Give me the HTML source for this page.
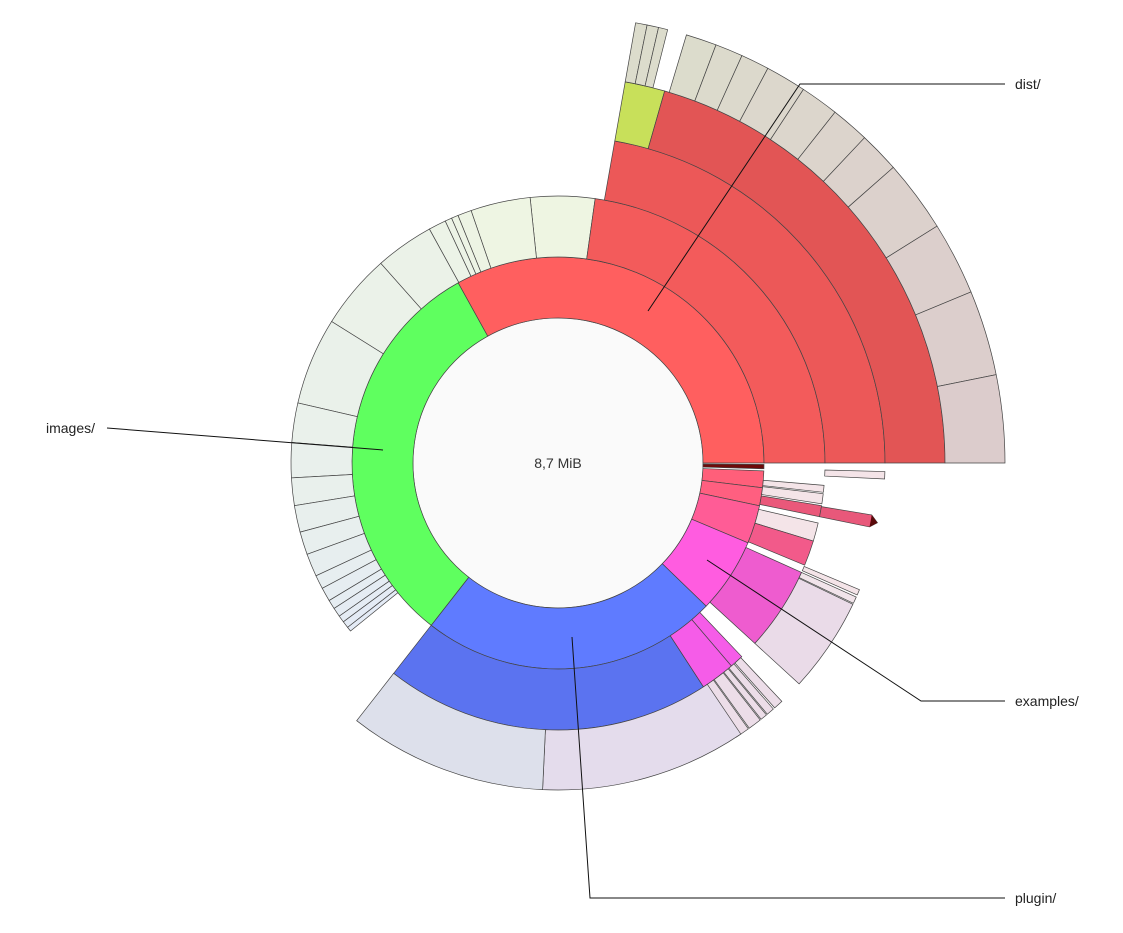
<!DOCTYPE html>
<html><head><meta charset="utf-8"><style>
body{margin:0;background:#fff;}
svg{display:block;font-family:"Liberation Sans","DejaVu Sans",sans-serif;}
</style></head><body>
<svg id="chart" width="1123" height="933" viewBox="0 0 1123 933" xmlns="http://www.w3.org/2000/svg">
<circle cx="558" cy="463" r="145" fill="#fafafa" stroke="#555" stroke-width="0.6"/>
<text x="558" y="468" text-anchor="middle" font-size="14" fill="#333">8,7 MiB</text>
<g id="segs"></g>
<g id="labels"></g>
</svg>
<script>
// ring radii (ring index -> inner/outer)
const ringInner = [145, 206, 267, 327, 387];
const ringOuter = [206, 267, 327, 387, 447];
// segments: ring, startDeg, endDeg, color, name
const segRing0 = [
  [0, -119, 0, '#ff5f5f', 'dist'],
  [0, 0.4, 1.6, '#6e0a0a', 'small-dark-dir'],
  [0, 2.2, 6.9, '#ff5f7a', 'pink-dir-1'],
  [0, 6.9, 12, '#ff5f80', 'pink-dir-2'],
  [0, 12, 22.8, '#ff5c96', 'pink-dir-3'],
  [0, 22.8, 44, '#ff5ce0', 'examples'],
  [0, 44, 128, '#5f7bff', 'plugin'],
  [0, 128, 241, '#5fff5f', 'images']
];
const distBounds = [-82, 0];
const imagesBounds = [-82, -96, -109, -112, -113.5, -115, -118.8, -131.6, -148, -167, -175.6, -183.2, -189.2, -195, -200, -205, -208, -211, -213, -215, -216.5, -218, -219];
const greyBounds = [-80, -78.5, -77, -75.8];
const greyBounds2 = [-73.3, -69.3, -65.7, -62, -56.7, -51.7, -46.7, -41.4, -32, -22.5, -11.4, 0];
const pinkRing1 = [
  [1, 4.8, 6.3, '#f4e4e8'],
  [1, 6.6, 8.8, '#f4e4e8'],
  [1, 9.2, 11.6, '#ea587a'],
  [1, 13, 17, '#f4e4e8'],
  [1, 17, 22.5, '#f25a8a'],
  [1, 24.2, 42.5, '#ee5ccf'],
  [2, 24.2, 25.4, '#f1e4ea'],
  [2, 25.6, 42.5, '#eadbe8'],
  [1, 46.5, 49.5, '#f55ce8'],
  [1, 49.5, 57, '#f55ce8'],
  [2, 46.8, 48.5, '#ecdde8'],
  [2, 48.8, 50.2, '#ecdde8'],
  [2, 50.4, 51.6, '#ecdde8'],
  [2, 51.8, 54.2, '#ecdde8'],
  [2, 54.4, 57, '#ecdde8'],
  [1, 57, 128, '#5b73f0'],
  [2, 56, 92.7, '#e4dcec'],
  [2, 92.7, 128, '#dde0eb'],
  [2, 1.5, 2.8, '#f4e4e8'],
  [2, 22.8, 23.8, '#f4e4e8'],
  [1, -82, 0, '#f35b5b'],
  [2, -80, 0, '#ec5858'],
  [3, -80, -74, '#c8e05a'],
  [3, -74, 0, '#e25555']
];
const C = {x: 558, y: 463};
const NS = 'http://www.w3.org/2000/svg';
const segG = document.getElementById('segs');
function pt(r, a){const t = a*Math.PI/180; return [C.x + r*Math.cos(t), C.y + r*Math.sin(t)];}
function arc(r0, r1, a0, a1){
  const p0 = pt(r1, a0), p1 = pt(r1, a1), p2 = pt(r0, a1), p3 = pt(r0, a0);
  const lg = (a1 - a0) > 180 ? 1 : 0;
  return `M${p0[0]},${p0[1]}A${r1},${r1} 0 ${lg} 1 ${p1[0]},${p1[1]}L${p2[0]},${p2[1]}A${r0},${r0} 0 ${lg} 0 ${p3[0]},${p3[1]}Z`;
}
function add(ring, a0, a1, col, name){
  const p = document.createElementNS(NS, 'path');
  p.setAttribute('d', arc(ringInner[ring], ringOuter[ring], a0, a1));
  p.setAttribute('fill', col);
  p.setAttribute('stroke', '#444');
  p.setAttribute('stroke-width', '0.7');
  
  
  segG.appendChild(p);
}
function mix(c1, c2, t){
  const a = [1,3,5].map(i => parseInt(c1.substr(i,2),16)), b = [1,3,5].map(i => parseInt(c2.substr(i,2),16));
  return 'rgb(' + a.map((v,i) => Math.round(v + (b[i]-v)*t)).join(',') + ')';
}
segRing0.forEach(s => add(s[0], s[1], s[2], s[3], s[4] + '-segment'));
for (let i = 0; i < imagesBounds.length - 1; i++) {
  const a1 = imagesBounds[i], a0 = imagesBounds[i+1];
  add(1, a0, a1, mix('#eef5e2', '#e4ebf6', i/(imagesBounds.length-2)), 'images-child-segment');
}
pinkRing1.forEach(s => add(s[0], s[1], s[2], s[3], 'child-segment'));
for (let i = 0; i < greyBounds.length - 1; i++) add(4, greyBounds[i], greyBounds[i+1], '#dcdccc', 'dist-file-segment');
for (let i = 0; i < greyBounds2.length - 1; i++) add(4, greyBounds2[i], greyBounds2[i+1], mix('#dcdccc', '#dccccc', i/(greyBounds2.length-2)), 'dist-file-segment');
// arrow-like long segment
(function(){
  const a = pt(267, 9.4), b = pt(318, 9.4), tip = pt(325, 10.6), c = pt(318, 11.6), d = pt(267, 11.6);
  const p = document.createElementNS(NS, 'path');
  p.setAttribute('d', `M${a}L${b}L${tip}L${c}L${d}Z`);
  p.setAttribute('fill', '#e8587a');
  p.setAttribute('stroke', '#444');
  p.setAttribute('stroke-width', '0.7');
  
  
  segG.appendChild(p);
  const q = document.createElementNS(NS, 'path');
  const t1 = pt(318, 9.4), t2 = pt(325, 10.6), t3 = pt(318, 11.6);
  q.setAttribute('d', `M${t1}L${t2}L${t3}Z`);
  q.setAttribute('fill', '#5a0a0a');
  
  
  segG.appendChild(q);
})();
// labels
const labelNames = ['dist/', 'images/', 'examples/', 'plugin/'];
const labelG = document.getElementById('labels');
const labelDefs = [
  {pts: [[648,311],[800,84],[1005,84]], tx: 1015, ty: 89, anchor: 'start'},
  {pts: [[383,450],[107,428]], tx: 95, ty: 433, anchor: 'end'},
  {pts: [[707,560],[921,701],[1005,701]], tx: 1015, ty: 706, anchor: 'start'},
  {pts: [[572,637],[590,898],[1005,898]], tx: 1015, ty: 903, anchor: 'start'}
];
labelDefs.forEach((l, i) => {
  const pl = document.createElementNS(NS, 'polyline');
  pl.setAttribute('points', l.pts.map(p => p.join(',')).join(' '));
  pl.setAttribute('fill', 'none');
  pl.setAttribute('stroke', '#111');
  pl.setAttribute('stroke-width', '1');
  
  
  labelG.appendChild(pl);
  const t = document.createElementNS(NS, 'text');
  t.setAttribute('x', l.tx); t.setAttribute('y', l.ty);
  t.setAttribute('text-anchor', l.anchor);
  t.setAttribute('font-size', '14');
  t.setAttribute('fill', '#222');
  
  
  t.textContent = labelNames[i];
  labelG.appendChild(t);
});
</script>
</body></html>
